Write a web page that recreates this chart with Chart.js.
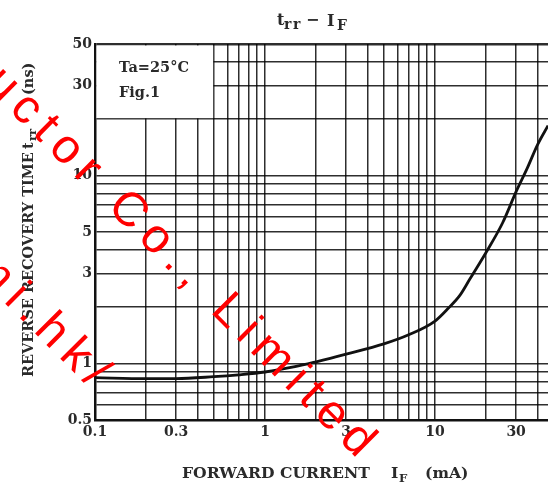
<!DOCTYPE html>
<html>
<head>
<meta charset="utf-8">
<script src="https://cdn.jsdelivr.net/npm/chart.js"></script>
<style>
html, body { margin: 0; padding: 0; background: #fff; }
</style>
</head>
<body>
<canvas id="trrChart" width="548" height="485"></canvas>
<script>
// forward current IF (mA) against reverse recovery time trr (ns)
var currentMA = [0.1, 0.2, 0.3, 0.5, 0.7, 1, 1.5, 2, 3, 5, 7, 10, 12, 14, 16, 20, 25, 30, 35, 40, 46.2, 50];
var trrNs = [0.84, 0.83, 0.83, 0.85, 0.87, 0.9, 0.96, 1.02, 1.12, 1.27, 1.42, 1.68, 1.97, 2.3, 2.8, 3.9, 5.6, 8.2, 11, 14.5, 18.4, 21];

// log paper grid
var xGrid = [0.1, 0.2, 0.3, 0.4, 0.5, 0.6, 0.7, 0.8, 0.9, 1, 2, 3, 4, 5, 6, 7, 8, 9, 10, 20, 30, 40];
var yGrid = [0.5, 0.6, 0.7, 0.8, 0.9, 1, 2, 3, 4, 5, 6, 7, 8, 9, 10, 20, 30, 40, 50];
var xTickLabels = [0.1, 0.3, 1, 3, 10, 30];
var yTickLabels = [0.5, 1, 3, 5, 10, 30, 50];

var serif = '"DejaVu Serif", serif';

function hasLabel(list, v) {
    for (var i = 0; i < list.length; i++) {
        if (Math.abs(list[i] - v) < 1e-9) return true;
    }
    return false;
}

function drawTracked(ctx, text, anchorIdx, anchorX, baseY, spacing) {
    var pos = 0, i;
    for (i = 0; i < anchorIdx; i++) pos += ctx.measureText(text[i]).width + spacing;
    var x = anchorX - pos;
    for (i = 0; i < text.length; i++) {
        ctx.fillText(text[i], x, baseY);
        x += ctx.measureText(text[i]).width + spacing;
    }
}

function fitFont(ctx, text, targetW) {
    ctx.font = 'bold 20px ' + serif;
    return 20 * targetW / ctx.measureText(text).width;
}

var sheetPlugin = {
    id: 'sheet',
    beforeDatasetsDraw: function (chart) {
        var ctx = chart.ctx, xs = chart.scales.x, ys = chart.scales.y;
        var l = xs.getPixelForValue(0.1), r = xs.getPixelForValue(0.5);
        var t = ys.getPixelForValue(50), b = ys.getPixelForValue(20);
        ctx.save();
        ctx.fillStyle = '#fff';
        ctx.fillRect(l + 1.5, t + 1.5, r - l - 2.2, b - t - 2.2);
        ctx.fillStyle = '#2a2a2a';
        ctx.font = 'bold 14.5px ' + serif;
        ctx.fillText('Ta=25°C', l + 24, t + 28);
        ctx.fillText('Fig.1', l + 24, t + 53);
        ctx.restore();
    },
    afterDraw: function (chart) {
        var ctx = chart.ctx;
        ctx.save();
        ctx.fillStyle = '#2a2a2a';
        ctx.textBaseline = 'alphabetic';

        // title  trr - IF
        ctx.font = 'bold 16px ' + serif;
        ctx.fillText('t', 277, 25);
        ctx.fillText('−', 306, 25);
        ctx.fillText('I', 327, 26);
        ctx.font = 'bold 14px ' + serif;
        ctx.fillText('r', 284, 29);
        ctx.fillText('r', 293, 29);
        ctx.fillText('F', 337, 30);

        // x axis title
        var fs = fitFont(ctx, 'FORWARD CURRENT', 188);
        ctx.font = 'bold ' + fs + 'px ' + serif;
        ctx.fillText('FORWARD CURRENT', 182, 478);
        ctx.fillText('I', 391, 478);
        ctx.fillText('(mA)', 425, 478);
        ctx.font = 'bold ' + (fs * 0.75) + 'px ' + serif;
        ctx.fillText('F', 399, 482);

        // y axis title, rotated
        ctx.save();
        ctx.translate(33, 377);
        ctx.rotate(-Math.PI / 2);
        var fy = fitFont(ctx, 'REVERSE RECOVERY TIME', 225);
        ctx.font = 'bold ' + fy + 'px ' + serif;
        ctx.fillText('REVERSE RECOVERY TIME', 0, 0);
        ctx.fillText('t', 228, 0);
        ctx.fillText('(ns)', 282, 0);
        ctx.font = 'bold ' + (fy * 0.8) + 'px ' + serif;
        ctx.fillText('rr', 236, 3);
        ctx.restore();

        // red watermark
        ctx.save();
        ctx.rotate(Math.PI / 4);
        ctx.fillStyle = '#ff0000';
        ctx.font = '48px "Liberation Sans", Arial, sans-serif';
        var line1 = 'Semiconductor Co., Limited';
        drawTracked(ctx, line1, line1.indexOf('Co.'), 222, 72, 9);
        var line2 = 'http://www.semi.hk/';
        drawTracked(ctx, line2, line2.lastIndexOf('.'), 235, 211, 9);
        ctx.restore();

        ctx.restore();
    }
};

var points = [];
for (var i = 0; i < currentMA.length; i++) points.push({ x: currentMA[i], y: trrNs[i] });

var ctx = document.getElementById('trrChart').getContext('2d');
var chart = new Chart(ctx, {
    type: 'line',
    data: {
        datasets: [{
            data: points,
            borderColor: '#111',
            borderWidth: 2.8,
            pointRadius: 0,
            fill: false,
            cubicInterpolationMode: 'monotone'
        }]
    },
    options: {
        responsive: false,
        animation: false,
        events: [],
        layout: { padding: { top: 44, left: 0, right: 0, bottom: 0 } },
        plugins: { legend: { display: false }, tooltip: { enabled: false } },
        scales: {
            x: {
                type: 'logarithmic',
                min: 0.1,
                max: 46.2,
                afterBuildTicks: function (s) { s.ticks = xGrid.map(function (v) { return { value: v }; }); },
                afterFit: function (s) { s.height = 65; },
                grid: { color: 'rgba(0,0,0,0.82)', lineWidth: 1.5, drawTicks: false },
                border: { color: '#111', width: 2.5 },
                ticks: {
                    autoSkip: false,
                    maxRotation: 0,
                    padding: 4,
                    color: '#2a2a2a',
                    font: { family: serif, size: 14, weight: 'bold' },
                    callback: function (v) { return hasLabel(xTickLabels, v) ? String(v) : ''; }
                }
            },
            y: {
                type: 'logarithmic',
                min: 0.5,
                max: 50,
                afterBuildTicks: function (s) { s.ticks = yGrid.map(function (v) { return { value: v }; }); },
                afterFit: function (s) { s.width = 95; },
                grid: {
                    color: 'rgba(0,0,0,0.82)',
                    lineWidth: function (c) { return c.tick && c.tick.value === 50 ? 2.5 : 1.5; },
                    drawTicks: false
                },
                border: { color: '#111', width: 2.5 },
                ticks: {
                    autoSkip: false,
                    padding: 3,
                    color: '#2a2a2a',
                    font: { family: serif, size: 14, weight: 'bold' },
                    callback: function (v) { return hasLabel(yTickLabels, v) ? String(v) : ''; }
                }
            }
        }
    },
    plugins: [sheetPlugin]
});
</script>
</body>
</html>
